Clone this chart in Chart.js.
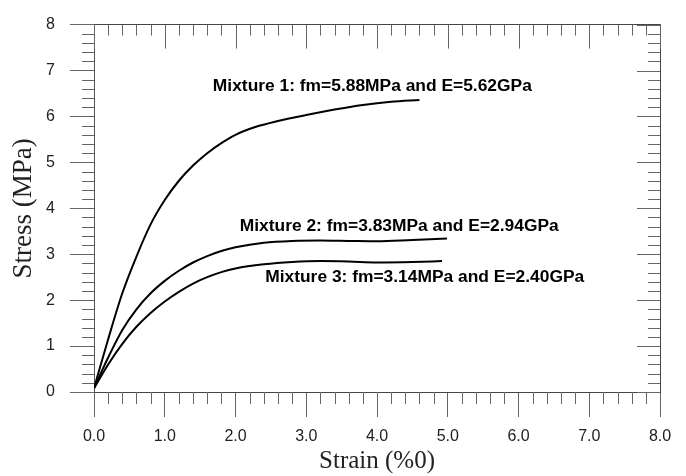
<!DOCTYPE html>
<html>
<head>
<meta charset="utf-8">
<script src="https://cdn.jsdelivr.net/npm/chart.js@4/dist/chart.umd.min.js"></script>
<style>
  html, body { margin: 0; padding: 0; background: #fff; }
  #wrap { width: 686px; height: 476px; }
</style>
</head>
<body>
<div id="wrap"><canvas id="stressChart"></canvas></div>
<script>
// values: strain (%0) vs stress (MPa)
const strain1 = [0, 0.2, 0.4, 0.6, 0.8, 1.0, 1.2, 1.4, 1.6, 1.8, 2.0, 2.3, 2.6, 3.0, 3.4, 3.8, 4.2, 4.6];
const stress1 = [0.08, 1.15, 2.15, 2.95, 3.65, 4.18, 4.6, 4.93, 5.2, 5.42, 5.6, 5.78, 5.9, 6.03, 6.15, 6.25, 6.32, 6.36];

const strain2 = [0, 0.2, 0.4, 0.6, 0.8, 1.0, 1.2, 1.4, 1.6, 1.8, 2.0, 2.4, 2.8, 3.2, 3.6, 4.0, 4.5, 4.99];
const stress2 = [0.08, 0.75, 1.35, 1.8, 2.15, 2.42, 2.64, 2.82, 2.96, 3.07, 3.15, 3.25, 3.29, 3.3, 3.29, 3.28, 3.31, 3.34];

const strain3 = [0, 0.2, 0.4, 0.6, 0.8, 1.0, 1.2, 1.4, 1.6, 1.8, 2.0, 2.4, 2.8, 3.2, 3.6, 4.0, 4.5, 4.92];
const stress3 = [0.08, 0.6, 1.05, 1.42, 1.72, 1.97, 2.18, 2.36, 2.5, 2.61, 2.69, 2.78, 2.83, 2.85, 2.84, 2.82, 2.83, 2.85];

const seriesNames = [
  "Mixture 1: fm=5.88MPa and E=5.62GPa",
  "Mixture 2: fm=3.83MPa and E=2.94GPa",
  "Mixture 3: fm=3.14MPa and E=2.40GPa"
];
// where each label starts (left edge, vertical middle), in data units
const labelX = [1.68, 2.06, 2.42];
const labelY = [6.65, 3.62, 2.51];

const xTickLabels = ["0.0", "1.0", "2.0", "3.0", "4.0", "5.0", "6.0", "7.0", "8.0"];

function toPoints(xs, ys) {
  return xs.map((v, i) => ({ x: v, y: ys[i] }));
}

// minor ticks (every 0.2) and the inward ticks on top/right
const frameTicks = {
  id: 'frameTicks',
  afterDraw(chart) {
    const { ctx, chartArea: a, scales: { x, y } } = chart;
    ctx.save();
    ctx.strokeStyle = '#666';
    ctx.lineWidth = 1;
    ctx.beginPath();
    for (let i = 0; i <= 40; i++) {
      const v = i * 0.2;
      const major = i % 5 === 0;
      const px = Math.round(x.getPixelForValue(v)) + 0.5;
      const py = Math.round(y.getPixelForValue(v)) + 0.5;
      ctx.moveTo(px, a.top);
      ctx.lineTo(px, a.top + (major ? 24 : 11));
      ctx.moveTo(a.right, py);
      ctx.lineTo(a.right - (major ? 23 : 12), py);
      if (!major) {
        ctx.moveTo(px, a.bottom);
        ctx.lineTo(px, a.bottom + 12);
        ctx.moveTo(a.left - 12, py);
        ctx.lineTo(a.left, py);
      }
    }
    ctx.stroke();

    // curve labels
    ctx.fillStyle = '#000';
    ctx.font = 'bold 17.4px "Liberation Sans", Arial, sans-serif';
    ctx.textBaseline = 'middle';
    ctx.textAlign = 'left';
    seriesNames.forEach((t, i) => {
      ctx.fillText(t, x.getPixelForValue(labelX[i]), y.getPixelForValue(labelY[i]));
    });
    ctx.restore();
  }
};

const tickFont = { family: '"Liberation Sans", Arial, sans-serif', size: 16 };
const serif = '"Liberation Serif", "Times New Roman", serif';

const datasets = [
  toPoints(strain1, stress1),
  toPoints(strain2, stress2),
  toPoints(strain3, stress3)
].map((pts, i) => ({
  label: seriesNames[i],
  data: pts,
  borderColor: '#000',
  borderWidth: 2,
  pointRadius: 0,
  fill: false,
  cubicInterpolationMode: 'monotone'
}));

const config = {
  type: 'line',
  data: { datasets: datasets },
  options: {
    responsive: true,
    maintainAspectRatio: false,
    animation: false,
    layout: { padding: 0 },
    plugins: {
      legend: { display: false },
      tooltip: { enabled: false }
    },
    scales: {
      x: {
        type: 'linear',
        position: 'bottom',
        min: 0,
        max: 8,
        afterFit(s) { s.height = 84; },
        ticks: {
          stepSize: 1,
          padding: 10,
          color: '#222',
          font: tickFont,
          maxRotation: 0,
          callback: (v) => xTickLabels[v]
        },
        grid: { drawOnChartArea: false, tickLength: 25, color: '#666' },
        border: { display: true, color: '#444' },
        title: {
          display: true, text: 'Strain (%0)', color: '#222',
          font: { family: serif, size: 25, lineHeight: 1.2 },
          padding: { top: 0, bottom: 0 }
        }
      },
      x2: {
        type: 'linear',
        position: 'top',
        min: 0,
        max: 8,
        afterFit(s) { s.height = 16; },
        ticks: { display: false },
        grid: { display: false },
        border: { display: true, color: '#444' }
      },
      y: {
        position: 'left',
        min: 0,
        max: 8,
        afterFit(s) { s.width = 94; },
        ticks: { stepSize: 1, padding: 15, color: '#222', font: tickFont },
        grid: { drawOnChartArea: false, tickLength: 24, color: '#666' },
        border: { display: true, color: '#555' },
        title: {
          display: true, text: 'Stress (MPa)', color: '#222',
          font: { family: serif, size: 27, lineHeight: 1.2 },
          padding: { top: 8, bottom: 0 }
        }
      },
      y2: {
        position: 'right',
        min: 0,
        max: 8,
        afterFit(s) { s.width = 26; },
        ticks: { display: false },
        grid: { display: false },
        border: { display: true, color: '#444' }
      }
    }
  },
  plugins: [frameTicks]
};

const ctx = document.getElementById('stressChart').getContext('2d');
const stressChart = new Chart(ctx, config);
</script>
</body>
</html>
